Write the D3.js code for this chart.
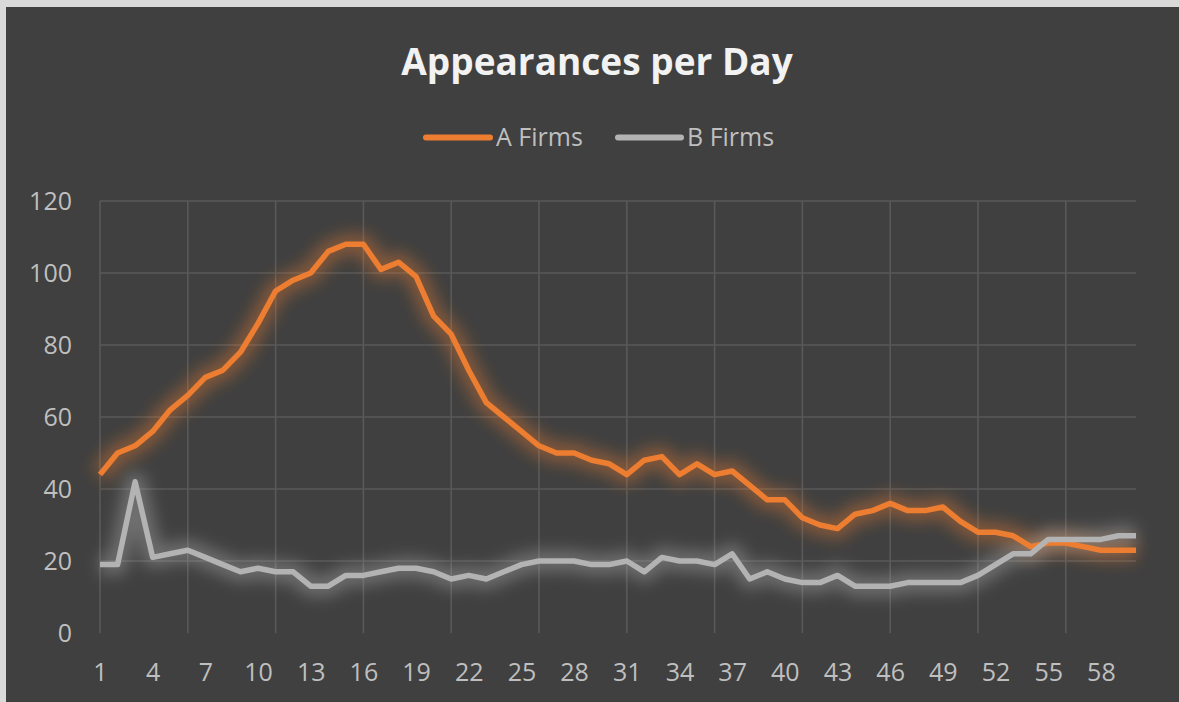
<!DOCTYPE html>
<html>
<head>
<meta charset="utf-8">
<script src="https://cdn.jsdelivr.net/npm/d3@7"></script>
<style>
  html, body { margin: 0; padding: 0; background: #d9d9d9; }
  svg { display: block; }
  text { font-family: "Open Sans", "Noto Sans", sans-serif; }
</style>
</head>
<body>
<svg id="chart" width="1179" height="702"></svg>
<script>
const categories = d3.range(1, 61);
const seriesNames = ["A Firms", "B Firms"];
const aFirms = [44,50,52,56,62,66,71,73,78,86,
                95,98,100,106,108,108,101,103,99,88,
                83,73,64,60,56,52,50,50,48,47,
                44,48,49,44,47,44,45,41,37,37,
                32,30,29,33,34,36,34,34,35,31,
                28,28,27,24,25,25,24,23,23,23];
const bFirms = [19,19,42,21,22,23,21,19,17,18,
                17,17,13,13,16,16,17,18,18,17,
                15,16,15,17,19,20,20,20,19,19,
                20,17,21,20,20,19,22,15,17,15,
                14,14,16,13,13,13,14,14,14,14,
                16,19,22,22,26,26,26,26,27,27];
const yTicks = [0, 20, 40, 60, 80, 100, 120];
const titleText = "Appearances per Day";
const colors = ["#ED7D31", "#B3B3B3"];

const svg = d3.select("#chart");
const W = 1179, H = 702;
const m = { left: 100, right: 1136, top: 201, bottom: 633 };

// background
svg.append("rect").attr("x", 6).attr("y", 7).attr("width", W - 6).attr("height", H - 7).attr("fill", "#404040");

const defs = svg.append("defs");
const f = defs.append("filter").attr("id", "glow").attr("x", "-10%").attr("y", "-50%").attr("width", "120%").attr("height", "200%");
f.append("feGaussianBlur").attr("stdDeviation", 8);

const x = d3.scalePoint().domain(categories).range([m.left, m.right]);
const y = d3.scaleLinear().domain([0, 120]).range([m.bottom, m.top]);

// gridlines
const grid = svg.append("g").attr("stroke", "#595959").attr("stroke-width", 1.6);
grid.selectAll("line.h").data(yTicks.filter(d => d > 0)).join("line")
  .attr("x1", m.left).attr("x2", m.right).attr("y1", d => y(d)).attr("y2", d => y(d));
grid.selectAll("line.v").data(categories.filter((d, i) => i % 5 === 0)).join("line")
  .attr("x1", d => x(d)).attr("x2", d => x(d)).attr("y1", m.top).attr("y2", m.bottom);

// axes
const yAxis = d3.axisLeft(y).tickValues(yTicks).tickSize(0).tickPadding(0);
const gy = svg.append("g").attr("transform", `translate(72,0)`).call(yAxis);
gy.select(".domain").remove();
gy.selectAll("text").attr("fill", "#BFBFBF").style("font-size", "25px").attr("dy", "0.35em");

const xAxis = d3.axisBottom(x).tickValues(categories.filter((d, i) => i % 3 === 0)).tickSize(0).tickPadding(0);
const gx = svg.append("g").attr("transform", `translate(0,665)`).call(xAxis);
gx.select(".domain").remove();
gx.selectAll("text").attr("fill", "#BFBFBF").style("font-size", "25px").attr("dy", "0.65em");

// lines
const line = d3.line().x((d, i) => x(categories[i])).y(d => y(d)).curve(d3.curveLinear);
const series = [aFirms, bFirms];
series.forEach((s, k) => {
  svg.append("path").datum(s).attr("d", line).attr("fill", "none")
    .attr("stroke", colors[k]).attr("stroke-width", 20).attr("stroke-opacity", 0.4)
    .attr("stroke-linejoin", "round").attr("filter", "url(#glow)");
});
series.forEach((s, k) => {
  svg.append("path").datum(s).attr("d", line).attr("fill", "none")
    .attr("stroke", colors[k]).attr("stroke-width", 5.5)
    .attr("stroke-linejoin", "round").attr("stroke-linecap", "butt");
});

// title
svg.append("text").attr("x", 597).attr("y", 75).attr("text-anchor", "middle")
  .attr("fill", "#F2F2F2").style("font-size", "37px").style("font-weight", "bold").text(titleText);

// legend
const legendItems = [
  { name: seriesNames[0], color: colors[0], x1: 426, x2: 490, tx: 496 },
  { name: seriesNames[1], color: colors[1], x1: 618, x2: 681, tx: 687 }
];
const lg = svg.append("g");
legendItems.forEach(it => {
  lg.append("line").attr("x1", it.x1).attr("x2", it.x2).attr("y1", 137.5).attr("y2", 137.5)
    .attr("stroke", it.color).attr("stroke-width", 6).attr("stroke-linecap", "round");
  lg.append("text").attr("x", it.tx).attr("y", 137.5).attr("dy", "0.35em")
    .attr("fill", "#BFBFBF").style("font-size", "25px").text(it.name);
});
</script>
</body>
</html>
